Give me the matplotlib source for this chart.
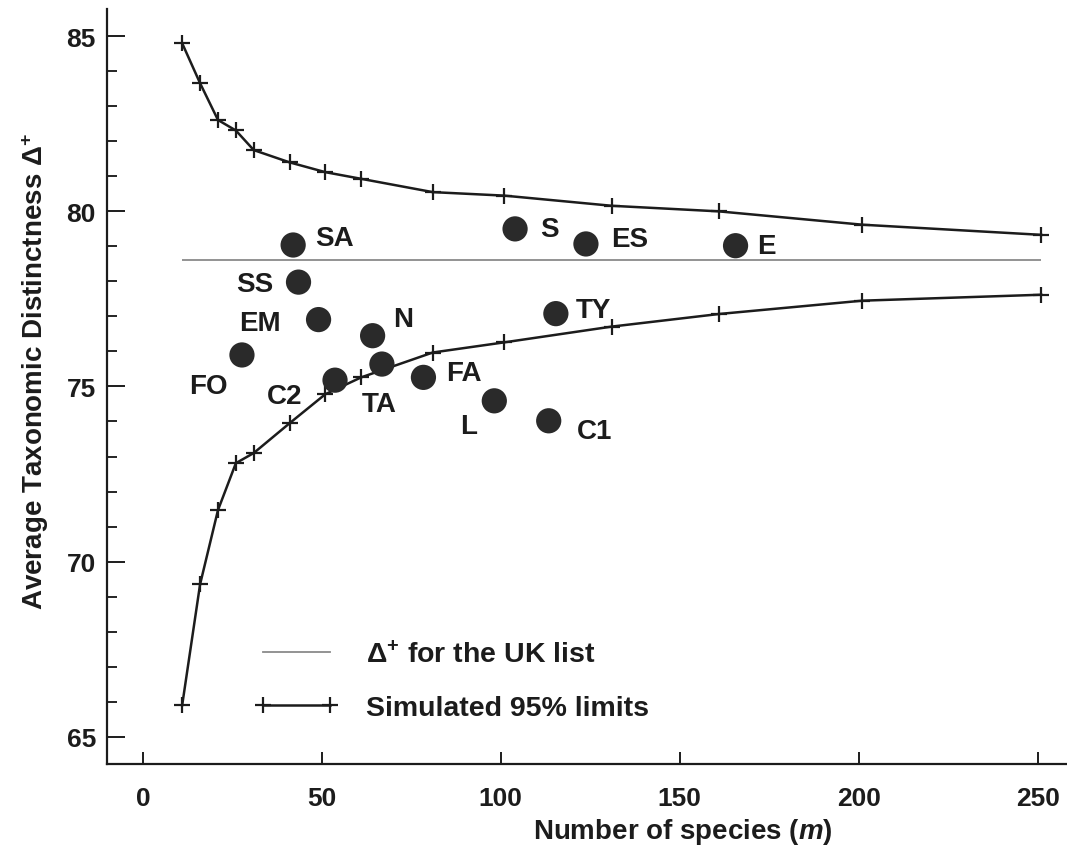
import matplotlib
matplotlib.use("Agg")
import matplotlib.pyplot as plt
from matplotlib.lines import Line2D

# ---- data ----
m_sim = [11, 16, 21, 26, 31, 41, 51, 61, 81, 101, 131, 161, 201, 251]
upper_limit = [84.80, 83.66, 82.61, 82.31, 81.75, 81.40, 81.12, 80.93, 80.55, 80.45, 80.16, 80.00, 79.62, 79.33]
lower_limit = [65.90, 69.35, 71.47, 72.81, 73.10, 73.95, 74.78, 75.26, 75.97, 76.26, 76.71, 77.07, 77.45, 77.62]
uk_delta = 78.6

site_names = ['SA', 'SS', 'EM', 'FO', 'C2', 'N', 'TA', 'FA', 'L', 'S', 'TY', 'C1', 'ES', 'E']
site_m = [42.0, 43.5, 49.1, 27.7, 53.7, 64.2, 66.8, 78.4, 98.2, 104.0, 115.4, 113.4, 123.8, 165.6]
site_delta = [79.04, 77.98, 76.91, 75.90, 75.18, 76.45, 75.64, 75.26, 74.59, 79.50, 77.08, 74.02, 79.07, 79.02]

x_ticks = [0, 50, 100, 150, 200, 250]
y_ticks = [65, 70, 75, 80, 85]

# label placement (offset in points, horizontal alignment)
label_style = {
    'SA': (15.8, 5.0, 'left'), 'SS': (-18, -1.4, 'right'), 'EM': (-27, -2.2, 'right'),
    'FO': (-10, -22.3, 'right'), 'C2': (-23.8, -11.5, 'right'), 'N': (15.1, 12.2, 'left'),
    'TA': (-2, -28.8, 'center'), 'FA': (16.6, 2.9, 'left'), 'L': (-12.2, -18, 'right'),
    'S': (18, 0, 'left'), 'TY': (14.4, 2.9, 'left'), 'C1': (20.2, -7.2, 'left'),
    'ES': (18, 3.6, 'left'), 'E': (15.8, 0, 'left'),
}

plt.rcParams['font.family'] = ['Liberation Sans', 'DejaVu Sans']
plt.rcParams['mathtext.fontset'] = 'custom'
plt.rcParams['mathtext.rm'] = 'Liberation Sans:bold'
plt.rcParams['mathtext.bf'] = 'Liberation Sans:bold'
plt.rcParams['mathtext.it'] = 'Liberation Sans:bold:italic'
ink = '#1c1c1c'

fig = plt.figure(figsize=(10.67, 8.53), dpi=100)
ax = fig.add_axes([0.1003, 0.1032, 0.8997, 0.8851])

ax.hlines(uk_delta, m_sim[0], m_sim[-1], color='#8a8a8a', lw=1.3, zorder=1)
ax.plot(m_sim, upper_limit, color=ink, lw=1.8, marker='+', ms=12, mew=1.6, zorder=2)
ax.plot(m_sim, lower_limit, color=ink, lw=1.8, marker='+', ms=12, mew=1.6, zorder=2)
ax.scatter(site_m, site_delta, s=330, color='#2a2a2a', edgecolors='none', zorder=3)

for name, mx, dy in zip(site_names, site_m, site_delta):
    ox, oy, ha = label_style[name]
    ax.annotate(name, (mx, dy), xytext=(ox, oy), textcoords='offset points',
                ha=ha, va='center', fontsize=20, fontweight='bold', color=ink)

ax.set_xlim(-10, 258.2)
ax.set_ylim(64.22, 85.78)
ax.set_xticks(x_ticks)
ax.set_yticks(y_ticks)
ax.set_yticks([v for v in range(65, 86)], minor=True)
ax.spines['top'].set_visible(False)
ax.spines['right'].set_visible(False)
for sp in ['left', 'bottom']:
    ax.spines[sp].set_linewidth(1.6)
    ax.spines[sp].set_color(ink)

ax.tick_params(axis='y', which='major', direction='in', length=13, width=1.4, pad=8,
               labelsize=19, colors=ink)
ax.tick_params(axis='y', which='minor', direction='in', length=7, width=1.2)
ax.tick_params(axis='x', which='major', direction='in', length=9, width=1.4, pad=16,
               labelsize=19, colors=ink)
for lab in ax.get_xticklabels() + ax.get_yticklabels():
    lab.set_fontweight('bold')

ax.set_xlabel('Number of species ($\\mathit{m}$)', fontsize=20, fontweight='bold', color=ink)
ax.xaxis.set_label_coords(0.5995, -0.069)
ax.set_ylabel('Average Taxonomic Distinctness \u0394$^{\\mathbf{+}}$', fontsize=20,
              fontweight='bold', color=ink)
ax.yaxis.set_label_coords(-0.058, 0.521)

handles = [
    Line2D([], [], color='#8a8a8a', lw=1.3),
    Line2D([], [], color=ink, lw=1.8, marker='+', ms=12, mew=1.6),
]
leg = ax.legend(handles, ['\u0394$^{\\mathbf{+}}$ for the UK list', 'Simulated 95% limits'],
                loc='center left', bbox_to_anchor=(0.154, 0.110), frameon=False,
                numpoints=2, handlelength=2.95, handletextpad=0.95, labelspacing=0.96,
                borderpad=0, borderaxespad=0,
                prop={'size': 20.5, 'weight': 'bold'})
for t in leg.get_texts():
    t.set_color(ink)

fig.savefig('out.png', dpi=100, facecolor='white')
